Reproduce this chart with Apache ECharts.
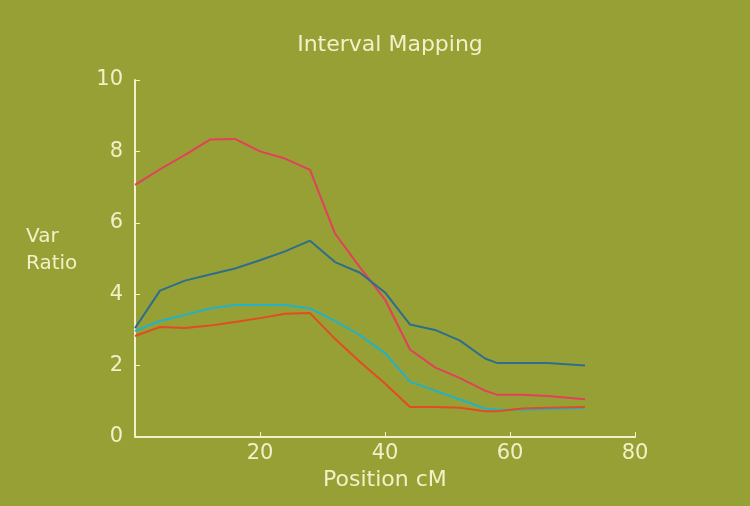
<!DOCTYPE html>
<html><head><meta charset="utf-8">
<script src="https://cdn.jsdelivr.net/npm/echarts@6/dist/echarts.min.js"></script>
<style>html,body{margin:0;padding:0;background:#97a035;}#c{width:750px;height:506px;}</style>
</head><body><div id="c"></div>
<script>
const positions = [0, 4, 8, 12, 16, 20, 24, 28, 32, 36, 40, 44, 48, 52, 56, 58, 62, 66, 72];
const pinkValues = [7.06, 7.5, 7.9, 8.33, 8.35, 8.0, 7.8, 7.48, 5.7, 4.75, 3.85, 2.45, 1.95, 1.65, 1.3, 1.18, 1.18, 1.15, 1.06];
const blueValues = [3.05, 4.1, 4.38, 4.55, 4.72, 4.95, 5.2, 5.5, 4.9, 4.6, 4.05, 3.15, 3.0, 2.7, 2.2, 2.07, 2.07, 2.07, 2.0];
const cyanValues = [2.97, 3.25, 3.42, 3.6, 3.7, 3.7, 3.7, 3.6, 3.25, 2.85, 2.35, 1.55, 1.3, 1.05, 0.8, 0.76, 0.76, 0.78, 0.81];
const orangeValues = [2.83, 3.08, 3.05, 3.12, 3.22, 3.33, 3.45, 3.47, 2.75, 2.1, 1.5, 0.84, 0.84, 0.82, 0.72, 0.72, 0.8, 0.82, 0.84];
const xTicks = [0, 20, 40, 60, 80];
const yTicks = [0, 2, 4, 6, 8, 10];

const txt = '#f2f0c8';
const font = 'DejaVu Sans';
function mk(vals, color) {
  return { type: 'line', data: positions.map((p, i) => [p, vals[i]]), showSymbol: false,
    lineStyle: { color: color, width: 2 }, itemStyle: { color: color }, silent: true };
}
const chart = echarts.init(document.getElementById('c'));
chart.setOption({
  backgroundColor: '#97a035',
  animation: false,
  title: { text: 'Interval Mapping', left: 385, top: 29, textAlign: 'center',
    textStyle: { color: txt, fontFamily: font, fontSize: 22, fontWeight: 'normal' } },
  graphic: [
    { type: 'text', left: 26, top: 223, style: { text: 'Var\nRatio', fill: txt,
      font: '20px "DejaVu Sans"', lineHeight: 27, textAlign: 'left' } },
    { type: 'text', left: 323, top: 469, style: { text: 'Position cM', fill: txt,
      font: '22px "DejaVu Sans"' } }
  ],
  grid: { left: 135, right: 115, top: 80, bottom: 69 },
  xAxis: { type: 'value', min: 0, max: 80, interval: 20,
    axisLine: { lineStyle: { color: txt, width: 2 } },
    axisTick: { inside: true, length: 5, lineStyle: { color: txt } },
    axisLabel: { color: txt, fontFamily: font, fontSize: 21, margin: 6, hideOverlap: false,
      formatter: v => xTicks.includes(v) && v !== 0 ? String(v) : '' },
    splitLine: { show: false } },
  yAxis: { type: 'value', min: 0, max: 10, interval: 2,
    axisLine: { show: true, lineStyle: { color: txt, width: 2 } },
    axisTick: { show: true, inside: true, length: 5, lineStyle: { color: txt } },
    axisLabel: { color: txt, fontFamily: font, fontSize: 21, margin: 12,
      formatter: v => yTicks.includes(v) ? String(v) : '' },
    splitLine: { show: false } },
  series: [
    mk(pinkValues, '#e2405c'),
    mk(blueValues, '#2d6e8e'),
    mk(cyanValues, '#22b2c8'),
    mk(orangeValues, '#e24c22')
  ]
});
</script></body></html>
